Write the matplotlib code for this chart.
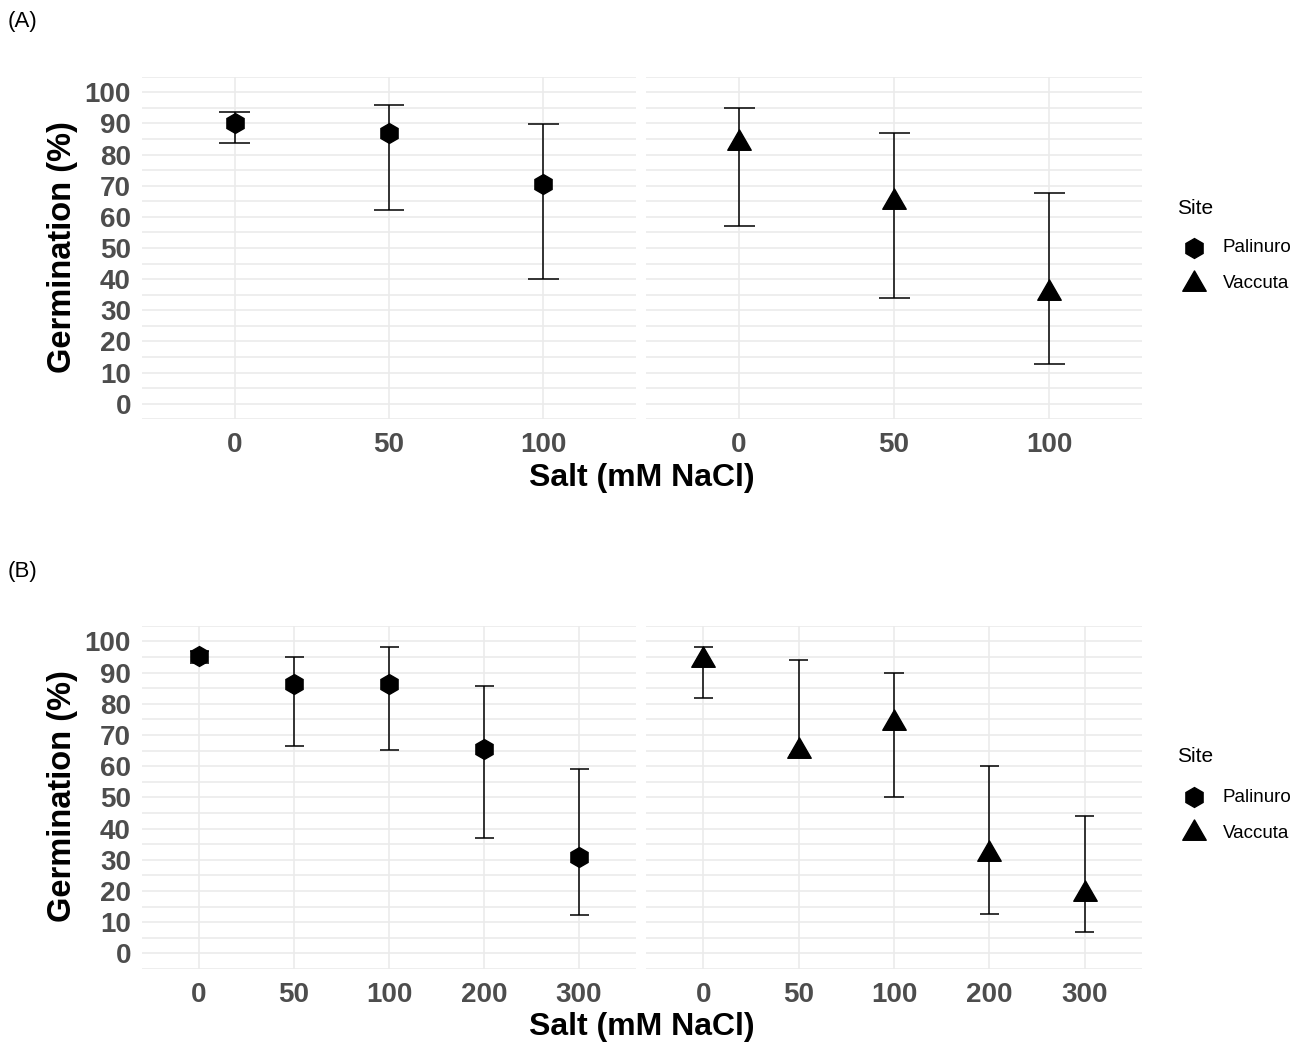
import numpy as np
import matplotlib
matplotlib.use("Agg")
import matplotlib.pyplot as plt
from matplotlib.path import Path
from matplotlib.lines import Line2D

plt.rcParams['font.family'] = ['Liberation Sans', 'DejaVu Sans']

# ---------------- data ----------------
salt_A = ["0", "50", "100"]
pal_A_mean = [90.0, 87.0, 70.7]
pal_A_low = [83.8, 62.1, 39.9]
pal_A_high = [93.8, 95.9, 89.8]
vac_A_mean = [83.6, 64.7, 35.5]
vac_A_low = [57.1, 33.8, 12.6]
vac_A_high = [94.9, 86.8, 67.5]

salt_B = ["0", "50", "100", "200", "300"]
pal_B_mean = [95.4, 86.2, 86.2, 65.5, 30.9]
pal_B_low = [93.0, 66.3, 65.2, 36.9, 12.2]
pal_B_high = [96.8, 95.1, 98.1, 85.8, 59.1]
vac_B_mean = [94.0, 64.8, 73.8, 31.9, 18.9]
vac_B_low = [81.9, 63.6, 50.1, 12.7, 7.0]
vac_B_high = [98.1, 94.0, 90.0, 60.1, 43.9]

sites = ["Palinuro", "Vaccuta"]
y_ticks = list(range(0, 101, 10))

# ---------------- style ----------------
W, H = 1306, 1046
DPI = 100
fig = plt.figure(figsize=(W / DPI, H / DPI), dpi=DPI)
fig.patch.set_facecolor("white")

# triangle centred on its centroid (like R pch 17)
tri_h = np.sqrt(3) / 2
tri_marker = Path([(0, 2 * tri_h / 3), (-0.5, -tri_h / 3), (0.5, -tri_h / 3), (0, 2 * tri_h / 3)],
                  [Path.MOVETO, Path.LINETO, Path.LINETO, Path.CLOSEPOLY])
markers = {"Palinuro": dict(marker="h", ms=14.3), "Vaccuta": dict(marker=tri_marker, ms=19.5)}

GRID = "#EBEBEB"
TICKC = "#4D4D4D"
CAP_W = 0.2  # errorbar width in category units


def px_axes(x0, y0, x1, y1):
    return fig.add_axes([x0 / W, 1 - y1 / H, (x1 - x0) / W, (y1 - y0) / H])


def draw_facet(ax, cats, mean, low, high, site, show_y):
    x = np.arange(1, len(cats) + 1)
    mean = np.array(mean)
    low = np.array(low)
    high = np.array(high)
    ax.vlines(x, low, high, color="black", lw=1.1, zorder=3)
    ax.hlines(high, x - CAP_W / 2, x + CAP_W / 2, color="black", lw=1.1, zorder=3)
    ax.hlines(low, x - CAP_W / 2, x + CAP_W / 2, color="black", lw=1.1, zorder=3)
    ax.plot(x, mean, linestyle="none", color="black", markeredgecolor="black",
            zorder=4, **markers[site])
    ax.set_xlim(0.4, len(cats) + 0.6)
    ax.set_ylim(-5, 105)
    ax.set_xticks(x)
    ax.set_xticklabels(cats)
    ax.set_yticks(y_ticks)
    ax.set_yticks(np.arange(-5, 106, 10), minor=True)
    ax.grid(True, which="major", axis="both", color=GRID, lw=1.2)
    ax.grid(True, which="minor", axis="y", color=GRID, lw=1.2)
    ax.set_axisbelow(True)
    for s in ax.spines.values():
        s.set_visible(False)
    ax.tick_params(which="both", length=0)
    ax.tick_params(axis="x", pad=9, labelsize=20, labelcolor=TICKC)
    ax.tick_params(axis="y", pad=8, labelsize=20, labelcolor=TICKC)
    for lab in ax.get_xticklabels() + ax.get_yticklabels():
        lab.set_fontweight("bold")
    if not show_y:
        ax.set_yticklabels([])


def draw_legend(top_y):
    fig.text(1177 / W, 1 - top_y / H, "Site", fontsize=15, va="center", ha="left")
    for i, site in enumerate(sites):
        yy = top_y + 40 + 36 * i
        fig.add_artist(Line2D([1194 / W], [1 - yy / H], transform=fig.transFigure,
                              color="black", linestyle="none", **markers[site]))
        fig.text(1223 / W, 1 - yy / H, site, fontsize=13.5, va="center", ha="left")


# Panel A
axAL = px_axes(142, 76.7, 636, 419.3)
axAR = px_axes(646, 76.7, 1142, 419.3)
draw_facet(axAL, salt_A, pal_A_mean, pal_A_low, pal_A_high, "Palinuro", True)
draw_facet(axAR, salt_A, vac_A_mean, vac_A_low, vac_A_high, "Vaccuta", False)
fig.text(8 / W, 1 - 22 / H, "(A)", fontsize=16, va="center", ha="left")
fig.text(642 / W, 1 - 478 / H, "Salt (mM NaCl)", fontsize=23, fontweight="bold", ha="center", va="center")
fig.text(62 / W, 1 - 247 / H, "Germination (%)", fontsize=23.5, fontweight="bold", ha="center", va="center", rotation=90)
draw_legend(208)

# Panel B
axBL = px_axes(142, 625.7, 636, 969)
axBR = px_axes(646, 625.7, 1142, 969)
draw_facet(axBL, salt_B, pal_B_mean, pal_B_low, pal_B_high, "Palinuro", True)
draw_facet(axBR, salt_B, vac_B_mean, vac_B_low, vac_B_high, "Vaccuta", False)
fig.text(8 / W, 1 - 572 / H, "(B)", fontsize=16, va="center", ha="left")
fig.text(642 / W, 1 - 1027 / H, "Salt (mM NaCl)", fontsize=23, fontweight="bold", ha="center", va="center")
fig.text(62 / W, 1 - 796 / H, "Germination (%)", fontsize=23.5, fontweight="bold", ha="center", va="center", rotation=90)
draw_legend(757)

fig.savefig("out.png", dpi=DPI)
